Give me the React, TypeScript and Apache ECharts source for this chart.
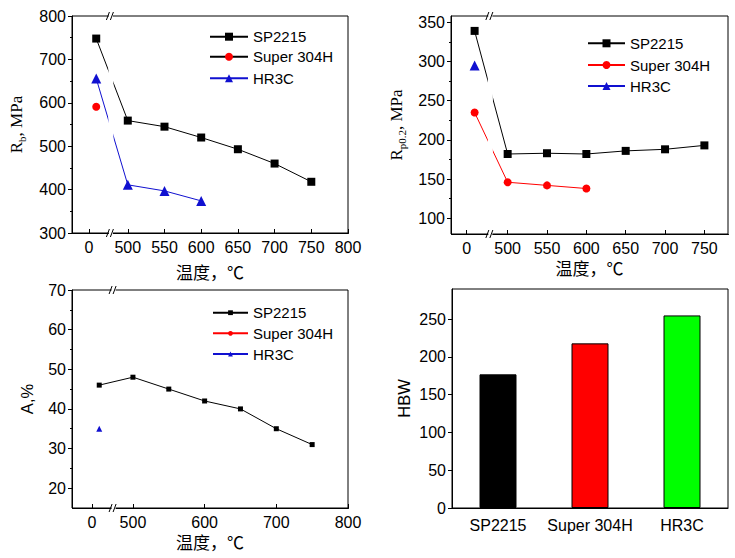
import React, { useEffect, useRef } from 'react';
import * as echarts from 'echarts';

// ---------------- data ----------------
// first temperature = room temperature, plotted just right of the "0" tick
const temperatures = [10, 500, 550, 600, 650, 700, 750];
const steelNames = ['SP2215', 'Super 304H', 'HR3C'];

const rbSP2215 = [748, 559, 545, 520, 493, 460, 418];
const rbSuper304H = [591];
const rbHR3C = [656, 411, 397, 374];

const rpSP2215 = [339, 182, 183, 182, 186, 188, 193];
const rpSuper304H = [235, 146, 142, 138];
const rpHR3C = [295];

const elSP2215 = [46, 48, 45, 42, 40, 35, 31];
const elSuper304H: number[] = [];
const elHR3C = [35];

const hbwValues = [177, 218, 255];

const rbTicks = [300, 400, 500, 600, 700, 800];
const rbMinor = [350, 450, 550, 650, 750];
const rpTicks = [100, 150, 200, 250, 300, 350];
const rpMinor = [125, 175, 225, 275, 325];
const elTicks = [20, 30, 40, 50, 60, 70];
const elMinor = [25, 35, 45, 55, 65];
const hbwTicks = [0, 50, 100, 150, 200, 250];
const tempTicks1 = [0, 500, 550, 600, 650, 700, 750, 800];
const tempTicks2 = [0, 500, 550, 600, 650, 700, 750];
const tempTicks3 = [0, 500, 600, 700, 800];

// ---------------- styles ----------------
const SANS = 'Liberation Sans, Arial, sans-serif';
const SERIF = 'Liberation Serif, Times New Roman, serif';
const CJK = 'Noto Sans CJK SC, sans-serif';
const BLACK = '#000000';
const RED = '#ff0000';
const BLUE = '#1010d0';
const GREEN = '#00ff00';

function lineSeries(name: string, vals: number[], color: string, lineColor: string, symbol: string, size: number) {
  return {
    type: 'line',
    name,
    data: vals.map((v, i) => [temperatures[i], v]),
    symbol,
    symbolSize: size,
    showSymbol: true,
    showAllSymbol: true,
    itemStyle: { color },
    lineStyle: { color: lineColor, width: 1 },
    emphasis: { disabled: true },
    z: 3,
  };
}

function lineOption(p: any) {
  return {
    animation: false,
    textStyle: { fontFamily: SANS },
    grid: {
      ...p.grid,
      show: true,
      borderColor: BLACK,
      borderWidth: 1,
      containLabel: false,
      outerBoundsMode: 'none',
    },
    legend: steelNames.map((n, i) => ({
      data: [n],
      left: p.legendLeft,
      top: p.legendTops[i],
      padding: 0,
      itemWidth: p.itemWidth,
      itemHeight: p.itemHeight,
      itemGap: 0,
      selectedMode: false,
      textStyle: { fontFamily: SANS, fontSize: 15, color: BLACK },
    })),
    xAxis: {
      type: 'value',
      min: p.xMin,
      max: p.xMax,
      breaks: [{ start: p.brk[0], end: p.brk[1], gap: 0 }],
      breakArea: { show: false },
      axisLine: { show: true, onZero: false, lineStyle: { color: BLACK, width: 1 } },
      axisTick: { show: true, inside: true, length: 4, customValues: p.xTicks, lineStyle: { color: BLACK } },
      axisLabel: { customValues: p.xTicks, fontSize: 16, color: BLACK, fontFamily: SANS, margin: 6 },
      splitLine: { show: false },
      name: '温度，℃',
      nameLocation: 'middle',
      nameGap: p.xNameGap,
      nameMoveOverlap: false,
      nameTextStyle: { fontFamily: CJK, fontSize: 17, color: BLACK },
    },
    yAxis: [
      {
        type: 'value',
        min: p.yMin,
        max: p.yMax,
        axisLine: { show: true, onZero: false, lineStyle: { color: BLACK, width: 1 } },
        axisTick: { show: true, inside: false, length: 4, customValues: p.yTicks, lineStyle: { color: BLACK } },
        axisLabel: { customValues: p.yTicks, fontSize: 16, color: BLACK, fontFamily: SANS, margin: 6 },
        splitLine: { show: false },
        name: p.yName,
        nameLocation: 'middle',
        nameGap: p.yNameGap,
        nameMoveOverlap: false,
        nameTextStyle: p.yNameStyle,
      },
      {
        type: 'value',
        min: p.yMin,
        max: p.yMax,
        position: 'left',
        axisLine: { show: false, onZero: false },
        axisLabel: { show: false },
        splitLine: { show: false },
        axisTick: { show: true, inside: false, length: 2, customValues: p.yMinor, lineStyle: { color: BLACK } },
      },
    ],
    series: p.series,
  };
}

function serifName(sub: string) {
  return {
    name: '{a|R}{s|' + sub + '}{a|, MPa}',
    style: {
      fontFamily: SERIF,
      fontSize: 17,
      color: BLACK,
      rich: {
        a: { fontFamily: SERIF, fontSize: 17, color: BLACK, lineHeight: 22 },
        s: { fontFamily: SERIF, fontSize: 11, color: BLACK, lineHeight: 11, verticalAlign: 'bottom' },
      },
    },
  };
}

const rbName = serifName('b');
const rpName = serifName('p0.2');

const panel1 = {
  grid: { left: 72, top: 16, width: 276, height: 217 },
  xMin: -23, xMax: 800, brk: [30, 477], xTicks: tempTicks1, xNameGap: 30,
  yMin: 300, yMax: 800, yTicks: rbTicks, yMinor: rbMinor,
  yName: rbName.name, yNameStyle: rbName.style, yNameGap: 45,
  legendLeft: 209, legendTops: [29.2, 49.2, 70.8], itemWidth: 38, itemHeight: 10,
  series: [
    lineSeries('SP2215', rbSP2215, BLACK, BLACK, 'rect', 8),
    lineSeries('Super 304H', rbSuper304H, RED, BLACK, 'circle', 8),
    lineSeries('HR3C', rbHR3C, BLUE, BLUE, 'triangle', 10),
  ],
  gapBand: true,
};

const panel2 = {
  grid: { left: 84, top: 16, width: 277, height: 218 },
  xMin: -20, xMax: 780, brk: [30, 478], xTicks: tempTicks2, xNameGap: 25,
  yMin: 80, yMax: 358, yTicks: rpTicks, yMinor: rpMinor,
  yName: rpName.name, yNameStyle: rpName.style, yNameGap: 44,
  legendLeft: 220, legendTops: [35.8, 57.5, 78.5], itemWidth: 37, itemHeight: 10,
  series: [
    lineSeries('SP2215', rpSP2215, BLACK, BLACK, 'rect', 8),
    lineSeries('Super 304H', rpSuper304H, RED, RED, 'circle', 8),
    lineSeries('HR3C', rpHR3C, BLUE, BLUE, 'triangle', 10),
  ],
  gapBand: true,
};

const panel3 = {
  grid: { left: 72, top: 11, width: 276, height: 218 },
  xMin: -28, xMax: 800, brk: [30, 473], xTicks: tempTicks3, xNameGap: 25,
  yMin: 15, yMax: 70, yTicks: elTicks, yMinor: elMinor,
  yName: 'A,%', yNameStyle: { fontFamily: SANS, fontSize: 16.5, color: BLACK }, yNameGap: 37,
  legendLeft: 212, legendTops: [26.2, 46.8, 67.5], itemWidth: 35, itemHeight: 6,
  series: [
    lineSeries('SP2215', elSP2215, BLACK, BLACK, 'rect', 5),
    lineSeries('Super 304H', elSuper304H, RED, RED, 'circle', 5),
    lineSeries('HR3C', elHR3C, BLUE, BLUE, 'triangle', 6),
  ],
  gapBand: false,
};

const barColors = [BLACK, RED, GREEN];

function barOption() {
  return {
    animation: false,
    textStyle: { fontFamily: SANS },
    grid: {
      left: 85, top: 10, width: 276, height: 219,
      show: true, borderColor: BLACK, borderWidth: 1,
      containLabel: false, outerBoundsMode: 'none',
    },
    xAxis: {
      type: 'category',
      data: steelNames,
      axisLine: { show: true, onZero: false, lineStyle: { color: BLACK } },
      axisTick: { show: false },
      axisLabel: { interval: 0, hideOverlap: false, fontSize: 16, color: BLACK, fontFamily: SANS, margin: 9 },
      splitLine: { show: false },
    },
    yAxis: {
      type: 'value',
      min: 0,
      max: 290,
      axisLine: { show: true, onZero: false, lineStyle: { color: BLACK } },
      axisTick: { show: true, inside: false, length: 4, customValues: hbwTicks, lineStyle: { color: BLACK } },
      axisLabel: { customValues: hbwTicks, fontSize: 16, color: BLACK, fontFamily: SANS, margin: 6 },
      splitLine: { show: false },
      name: 'HBW',
      nameLocation: 'middle',
      nameGap: 40,
      nameMoveOverlap: false,
      nameTextStyle: { fontFamily: SANS, fontSize: 16.5, color: BLACK },
    },
    series: [
      {
        type: 'bar',
        barWidth: 37,
        data: hbwValues.map((v, i) => ({ value: v, itemStyle: { color: barColors[i] } })),
        itemStyle: { borderColor: BLACK, borderWidth: 1 },
        emphasis: { disabled: true },
      },
    ],
  };
}

function Panel(props: { left: number; top: number; width: number; height: number; cfg?: any; bar?: boolean }) {
  const ref = useRef<HTMLDivElement>(null);
  useEffect(() => {
    const chart = echarts.init(ref.current as HTMLDivElement, null, { renderer: 'svg' });
    if (props.bar) {
      chart.setOption(barOption() as any);
    } else {
      const cfg = props.cfg;
      chart.setOption(lineOption(cfg) as any);
      const bx = chart.convertToPixel({ xAxisIndex: 0 } as any, cfg.brk[0]) as unknown as number;
      const yT = cfg.grid.top;
      const yB = cfg.grid.top + cfg.grid.height;
      const els: any[] = [];
      if (cfg.gapBand) {
        els.push({ type: 'rect', z: 50, shape: { x: bx - 2.5, y: yT + 1, width: 5, height: yB - yT - 2 }, style: { fill: '#fff' } });
      }
      [yT, yB].forEach((y) => {
        els.push({ type: 'rect', z: 60, shape: { x: bx - 2, y: y - 1.5, width: 4, height: 3 }, style: { fill: '#fff' } });
        els.push({ type: 'line', z: 61, shape: { x1: bx - 4.5, y1: y + 4, x2: bx - 1.5, y2: y - 4 }, style: { stroke: BLACK, lineWidth: 1 } });
        els.push({ type: 'line', z: 61, shape: { x1: bx - 0.5, y1: y + 4, x2: bx + 2.5, y2: y - 4 }, style: { stroke: BLACK, lineWidth: 1 } });
      });
      chart.setOption({ graphic: { elements: els } } as any);
    }
    return () => chart.dispose();
  }, []);
  return <div ref={ref} style={{ position: 'absolute', left: props.left, top: props.top, width: props.width, height: props.height }} />;
}

export default function App() {
  return (
    <div style={{ position: 'absolute', left: 0, top: 0, width: 735, height: 558, background: '#fff', overflow: 'hidden' }}>
      <Panel left={0} top={0} width={367} height={292} cfg={panel1} />
      <Panel left={367} top={0} width={368} height={292} cfg={panel2} />
      <Panel left={0} top={279} width={367} height={279} cfg={panel3} />
      <Panel left={367} top={279} width={368} height={279} bar />
    </div>
  );
}
